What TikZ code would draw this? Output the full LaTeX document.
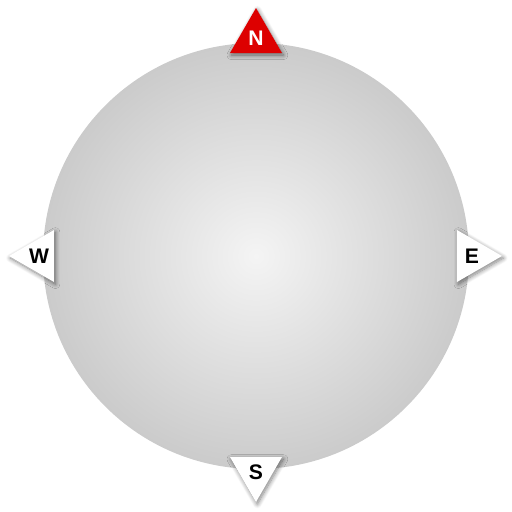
\documentclass[tikz,border=0pt]{standalone}
\usepackage{fontspec}
\setsansfont{Liberation Sans}
\usetikzlibrary{shapes.geometric,shadows.blur}

\definecolor{dialgray}{HTML}{CBCBCB}
\definecolor{dialwhite}{HTML}{F4F4F4}
\definecolor{northred}{HTML}{DD0000}

\begin{document}
\begin{tikzpicture}[
    dial/.style={circle, minimum size=8.52cm, inner color=dialwhite, outer color=dialgray},
    pointer/.style={regular polygon, regular polygon sides=3, minimum size=1.2cm,
        inner sep=0pt, fill=white, font=\sffamily\bfseries\large,
        blur shadow={shadow xshift=0.8pt, shadow yshift=-1.2pt, shadow blur radius=2.5pt,
            shadow blur steps=10, shadow opacity=50}}
]
\useasboundingbox (-5.12,-5.12) rectangle (5.12,5.12);
\node[dial] (dial) at (0,0) {};

\node[pointer, fill=northred, text=white] (north) at (90:4.36) {N};
\node[pointer, shape border rotate=180] (south) at (270:4.32) {S};
\node[pointer, shape border rotate=90] (west) at (180:4.34) {W};
\node[pointer, shape border rotate=270] (east) at (0:4.32) {E};
\end{tikzpicture}
\end{document}
